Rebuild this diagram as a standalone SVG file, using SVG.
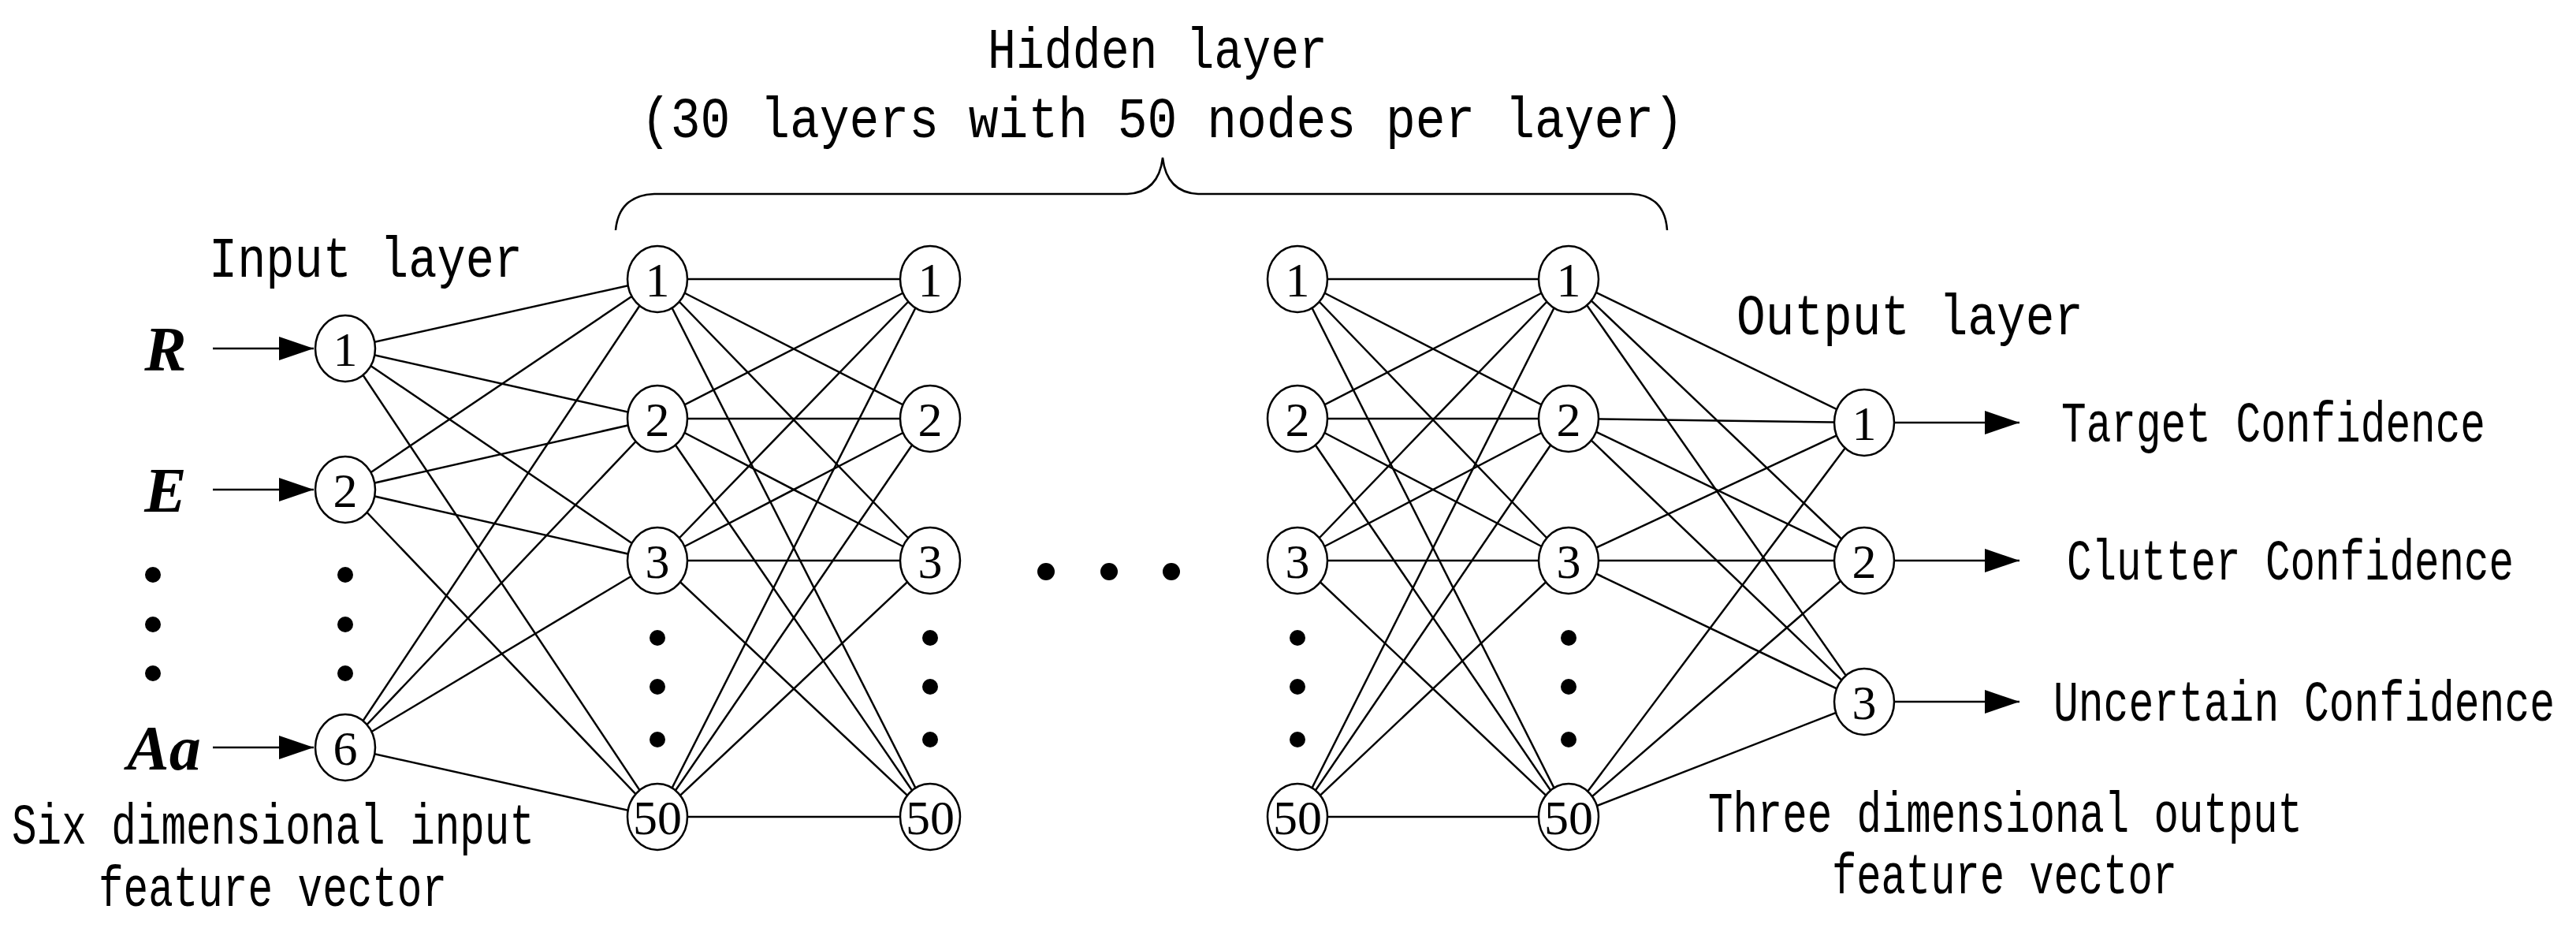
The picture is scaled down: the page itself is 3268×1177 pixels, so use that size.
<svg xmlns="http://www.w3.org/2000/svg" width="3268" height="1177" viewBox="0 0 3268 1177">
<style>
.t{font-family:"Liberation Mono","DejaVu Sans Mono",monospace;font-size:72px;fill:#000}
.n{font-family:"Liberation Serif",serif;font-size:62px;fill:#000;text-anchor:middle}
.v{font-family:"Liberation Serif",serif;font-size:80px;font-style:italic;font-weight:bold;fill:#000;text-anchor:middle}
.c line{stroke:#000;stroke-width:2.5}
.a{stroke:#000;stroke-width:3;marker-end:url(#ah)}
ellipse{fill:#fff;stroke:#000;stroke-width:2.5}
circle{fill:#000}
</style>
<defs><marker id="ah" markerWidth="44" markerHeight="30" refX="44" refY="15" orient="auto" markerUnits="userSpaceOnUse" viewBox="0 0 44 30"><path d="M0,0 L44,15 L0,30z" fill="#000"/></marker></defs>
<rect width="3268" height="1177" fill="#fff"/>
<g id="connectors" class="c">
<line x1="438" y1="442" x2="834" y2="354"/><line x1="438" y1="442" x2="834" y2="531"/><line x1="438" y1="442" x2="834" y2="711"/><line x1="438" y1="442" x2="834" y2="1036"/>
<line x1="438" y1="621" x2="834" y2="354"/><line x1="438" y1="621" x2="834" y2="531"/><line x1="438" y1="621" x2="834" y2="711"/><line x1="438" y1="621" x2="834" y2="1036"/>
<line x1="438" y1="948" x2="834" y2="354"/><line x1="438" y1="948" x2="834" y2="531"/><line x1="438" y1="948" x2="834" y2="711"/><line x1="438" y1="948" x2="834" y2="1036"/>
<line x1="834" y1="354" x2="1180" y2="354"/><line x1="834" y1="354" x2="1180" y2="531"/><line x1="834" y1="354" x2="1180" y2="711"/><line x1="834" y1="354" x2="1180" y2="1036"/>
<line x1="834" y1="531" x2="1180" y2="354"/><line x1="834" y1="531" x2="1180" y2="531"/><line x1="834" y1="531" x2="1180" y2="711"/><line x1="834" y1="531" x2="1180" y2="1036"/>
<line x1="834" y1="711" x2="1180" y2="354"/><line x1="834" y1="711" x2="1180" y2="531"/><line x1="834" y1="711" x2="1180" y2="711"/><line x1="834" y1="711" x2="1180" y2="1036"/>
<line x1="834" y1="1036" x2="1180" y2="354"/><line x1="834" y1="1036" x2="1180" y2="531"/><line x1="834" y1="1036" x2="1180" y2="711"/><line x1="834" y1="1036" x2="1180" y2="1036"/>
<line x1="1646" y1="354" x2="1990" y2="354"/><line x1="1646" y1="354" x2="1990" y2="531"/><line x1="1646" y1="354" x2="1990" y2="711"/><line x1="1646" y1="354" x2="1990" y2="1036"/>
<line x1="1646" y1="531" x2="1990" y2="354"/><line x1="1646" y1="531" x2="1990" y2="531"/><line x1="1646" y1="531" x2="1990" y2="711"/><line x1="1646" y1="531" x2="1990" y2="1036"/>
<line x1="1646" y1="711" x2="1990" y2="354"/><line x1="1646" y1="711" x2="1990" y2="531"/><line x1="1646" y1="711" x2="1990" y2="711"/><line x1="1646" y1="711" x2="1990" y2="1036"/>
<line x1="1646" y1="1036" x2="1990" y2="354"/><line x1="1646" y1="1036" x2="1990" y2="531"/><line x1="1646" y1="1036" x2="1990" y2="711"/><line x1="1646" y1="1036" x2="1990" y2="1036"/>
<line x1="1990" y1="354" x2="2365" y2="536"/><line x1="1990" y1="354" x2="2365" y2="711"/><line x1="1990" y1="354" x2="2365" y2="890"/>
<line x1="1990" y1="531" x2="2365" y2="536"/><line x1="1990" y1="531" x2="2365" y2="711"/><line x1="1990" y1="531" x2="2365" y2="890"/>
<line x1="1990" y1="711" x2="2365" y2="536"/><line x1="1990" y1="711" x2="2365" y2="711"/><line x1="1990" y1="711" x2="2365" y2="890"/>
<line x1="1990" y1="1036" x2="2365" y2="536"/><line x1="1990" y1="1036" x2="2365" y2="711"/><line x1="1990" y1="1036" x2="2365" y2="890"/>
<line class="a" x1="270" y1="442" x2="398" y2="442"/><line class="a" x1="270" y1="621" x2="398" y2="621"/><line class="a" x1="270" y1="948" x2="398" y2="948"/>
<line class="a" x1="2403" y1="536" x2="2562" y2="536"/><line class="a" x1="2403" y1="711" x2="2562" y2="711"/><line class="a" x1="2403" y1="890" x2="2562" y2="890"/>
</g>
<path d="M781,292 Q785,248 830,246 L1430,246 Q1470,244 1475,200 Q1480,244 1520,246 L2070,246 Q2112,248 2115,292" fill="none" stroke="#000" stroke-width="2.5"/>
<text class="t" x="1253" y="86" textLength="431" lengthAdjust="spacingAndGlyphs">Hidden layer</text>
<text class="t" x="813" y="174" textLength="1323" lengthAdjust="spacingAndGlyphs">(30 layers with 50 nodes per layer)</text>
<text class="t" x="265" y="351" textLength="398" lengthAdjust="spacingAndGlyphs">Input layer</text>
<text class="t" x="2203" y="424" textLength="440" lengthAdjust="spacingAndGlyphs">Output layer</text>
<text class="t" x="15" y="1070" textLength="663" lengthAdjust="spacingAndGlyphs">Six dimensional input</text>
<text class="t" x="125" y="1149" textLength="442" lengthAdjust="spacingAndGlyphs">feature vector</text>
<text class="t" x="2167" y="1055" textLength="754" lengthAdjust="spacingAndGlyphs">Three dimensional output</text>
<text class="t" x="2324" y="1133" textLength="438" lengthAdjust="spacingAndGlyphs">feature vector</text>
<text class="t" x="2615" y="560" textLength="538" lengthAdjust="spacingAndGlyphs">Target Confidence</text>
<text class="t" x="2622" y="735" textLength="567" lengthAdjust="spacingAndGlyphs">Clutter Confidence</text>
<text class="t" x="2605" y="914" textLength="636" lengthAdjust="spacingAndGlyphs">Uncertain Confidence</text>
<text class="v" x="210" y="470">R</text><text class="v" x="210" y="649">E</text><text class="v" x="208" y="976">Aa</text>
<g id="dots">
<circle cx="194" cy="729" r="10"/><circle cx="194" cy="792" r="10"/><circle cx="194" cy="854" r="10"/>
<circle cx="438" cy="729" r="10"/><circle cx="438" cy="792" r="10"/><circle cx="438" cy="854" r="10"/>
<circle cx="834" cy="809" r="10"/><circle cx="834" cy="871" r="10"/><circle cx="834" cy="938" r="10"/>
<circle cx="1180" cy="809" r="10"/><circle cx="1180" cy="871" r="10"/><circle cx="1180" cy="938" r="10"/>
<circle cx="1646" cy="809" r="10"/><circle cx="1646" cy="871" r="10"/><circle cx="1646" cy="938" r="10"/>
<circle cx="1990" cy="809" r="10"/><circle cx="1990" cy="871" r="10"/><circle cx="1990" cy="938" r="10"/>
<circle cx="1327" cy="725" r="11"/><circle cx="1407" cy="725" r="11"/><circle cx="1486" cy="725" r="11"/>
</g>
<g id="in1"><ellipse cx="438" cy="442" rx="38" ry="42"/><text class="n" x="438" y="464">1</text></g>
<g id="in2"><ellipse cx="438" cy="621" rx="38" ry="42"/><text class="n" x="438" y="643">2</text></g>
<g id="in6"><ellipse cx="438" cy="948" rx="38" ry="42"/><text class="n" x="438" y="970">6</text></g>
<g id="ha1"><ellipse cx="834" cy="354" rx="38" ry="42"/><text class="n" x="834" y="376">1</text></g>
<g id="ha2"><ellipse cx="834" cy="531" rx="38" ry="42"/><text class="n" x="834" y="553">2</text></g>
<g id="ha3"><ellipse cx="834" cy="711" rx="38" ry="42"/><text class="n" x="834" y="733">3</text></g>
<g id="ha50"><ellipse cx="834" cy="1036" rx="38" ry="42"/><text class="n" x="834" y="1058">50</text></g>
<g id="hb1"><ellipse cx="1180" cy="354" rx="38" ry="42"/><text class="n" x="1180" y="376">1</text></g>
<g id="hb2"><ellipse cx="1180" cy="531" rx="38" ry="42"/><text class="n" x="1180" y="553">2</text></g>
<g id="hb3"><ellipse cx="1180" cy="711" rx="38" ry="42"/><text class="n" x="1180" y="733">3</text></g>
<g id="hb50"><ellipse cx="1180" cy="1036" rx="38" ry="42"/><text class="n" x="1180" y="1058">50</text></g>
<g id="hc1"><ellipse cx="1646" cy="354" rx="38" ry="42"/><text class="n" x="1646" y="376">1</text></g>
<g id="hc2"><ellipse cx="1646" cy="531" rx="38" ry="42"/><text class="n" x="1646" y="553">2</text></g>
<g id="hc3"><ellipse cx="1646" cy="711" rx="38" ry="42"/><text class="n" x="1646" y="733">3</text></g>
<g id="hc50"><ellipse cx="1646" cy="1036" rx="38" ry="42"/><text class="n" x="1646" y="1058">50</text></g>
<g id="hd1"><ellipse cx="1990" cy="354" rx="38" ry="42"/><text class="n" x="1990" y="376">1</text></g>
<g id="hd2"><ellipse cx="1990" cy="531" rx="38" ry="42"/><text class="n" x="1990" y="553">2</text></g>
<g id="hd3"><ellipse cx="1990" cy="711" rx="38" ry="42"/><text class="n" x="1990" y="733">3</text></g>
<g id="hd50"><ellipse cx="1990" cy="1036" rx="38" ry="42"/><text class="n" x="1990" y="1058">50</text></g>
<g id="out1"><ellipse cx="2365" cy="536" rx="38" ry="42"/><text class="n" x="2365" y="558">1</text></g>
<g id="out2"><ellipse cx="2365" cy="711" rx="38" ry="42"/><text class="n" x="2365" y="733">2</text></g>
<g id="out3"><ellipse cx="2365" cy="890" rx="38" ry="42"/><text class="n" x="2365" y="912">3</text></g>
</svg>
